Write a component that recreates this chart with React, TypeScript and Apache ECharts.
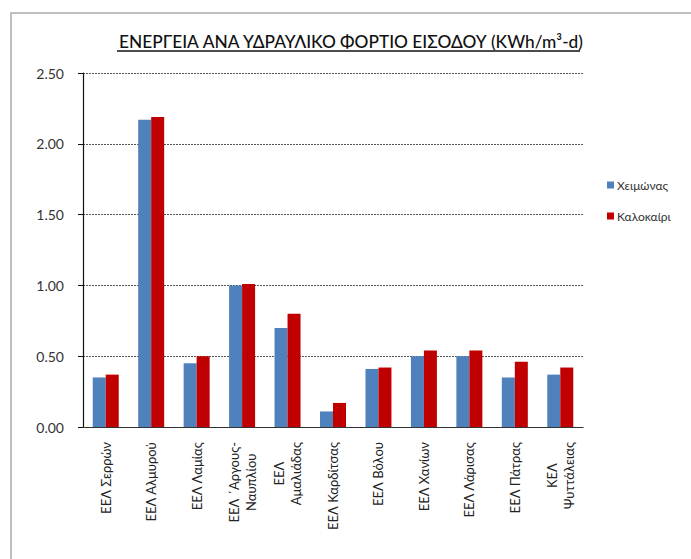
import React, { useEffect, useRef } from "react";
import * as echarts from "echarts";

const categories = [
  "ΕΕΛ Σερρών",
  "ΕΕΛ Αλμυρού",
  "ΕΕΛ Λαμίας",
  "ΕΕΛ ΄Αργους-\nΝαυπλίου",
  "ΕΕΛ\nΑμαλιάδας",
  "ΕΕΛ Καρδίτσας",
  "ΕΕΛ Βόλου",
  "ΕΕΛ Χανίων",
  "ΕΕΛ Λάρισας",
  "ΕΕΛ Πάτρας",
  "ΚΕΛ\nΨυττάλειας",
];
const winter = [0.35, 2.17, 0.45, 1.0, 0.7, 0.11, 0.41, 0.5, 0.5, 0.35, 0.37];
const summer = [0.37, 2.19, 0.5, 1.01, 0.8, 0.17, 0.42, 0.54, 0.54, 0.46, 0.42];
const seriesNames = ["Χειμώνας", "Καλοκαίρι"];
const titleText = "ΕΝΕΡΓΕΙΑ ΑΝΑ ΥΔΡΑΥΛΙΚΟ ΦΟΡΤΙΟ ΕΙΣΟΔΟΥ (KWh/m³-d)";

export default function App() {
  const ref = useRef<HTMLDivElement>(null);
  useEffect(() => {
    const chart = echarts.init(ref.current!, null, { renderer: "svg" });
    const font = "Lato, 'Open Sans', sans-serif";
    chart.setOption({
      animation: false,
      backgroundColor: "#fff",
      textStyle: { fontFamily: font },
      title: {
        text: titleText,
        left: 346,
        top: 28,
        textAlign: "center",
        textStyle: { fontFamily: font, fontSize: 17.3, fontWeight: 500, color: "#111" },
      },
      graphic: [
        {
          type: "line",
          shape: { x1: 117, y1: 51, x2: 580, y2: 51 },
          style: { stroke: "#111", lineWidth: 1.3 },
        },
        {
          type: "polyline",
          shape: { points: [[11, 600], [11, 13], [700, 13]] },
          style: { stroke: "#aaa", lineWidth: 1.5, fill: "none" },
        },
      ],
      legend: {
        orient: "vertical",
        left: 602,
        top: 174,
        itemWidth: 7,
        itemHeight: 7,
        itemGap: 19,
        icon: "rect",
        textStyle: { fontFamily: font, fontSize: 12, color: "#333", padding: [0, 0, 0, -2] },
        data: seriesNames,
      },
      grid: { left: 83, right: 108, top: 73, bottom: 132 },
      xAxis: {
        type: "category",
        data: categories,
        axisLine: { show: true, lineStyle: { color: "#333", width: 1.2 } },
        axisTick: { show: false },
        axisLabel: {
          rotate: 90,
          interval: 0,
          margin: 15,
          fontFamily: font,
          fontSize: 13,
          color: "#222",
          lineHeight: 17,
          formatter: (v: string) => v.split("\n").map((s) => `{c|${s}}`).join("\n"),
          rich: { c: { align: "center", fontFamily: font, fontSize: 13, color: "#222", lineHeight: 17 } },
        },
      },
      yAxis: {
        type: "value",
        min: 0,
        max: 2.5,
        interval: 0.5,
        axisLine: { show: true, lineStyle: { color: "#111", width: 1.2 } },
        axisTick: { show: true, length: 5, lineStyle: { color: "#111" } },
        axisLabel: {
          formatter: (v: number) => v.toFixed(2),
          fontFamily: font,
          fontSize: 14,
          color: "#333",
          margin: 19,
        },
        splitLine: { show: true, lineStyle: { color: "#555", type: [2, 1], width: 1 } },
      },
      series: [
        {
          name: seriesNames[0],
          type: "bar",
          data: winter,
          barWidth: 13,
          barGap: "0%",
          itemStyle: { color: "#4F81BD" },
        },
        {
          name: seriesNames[1],
          type: "bar",
          data: summer,
          barWidth: 13,
          itemStyle: { color: "#C00000" },
        },
      ],
    });
    return () => chart.dispose();
  }, []);
  return (
    <div
      ref={ref}
      style={{ position: "fixed", left: 0, top: 0, width: 691, height: 559 }}
    />
  );
}
